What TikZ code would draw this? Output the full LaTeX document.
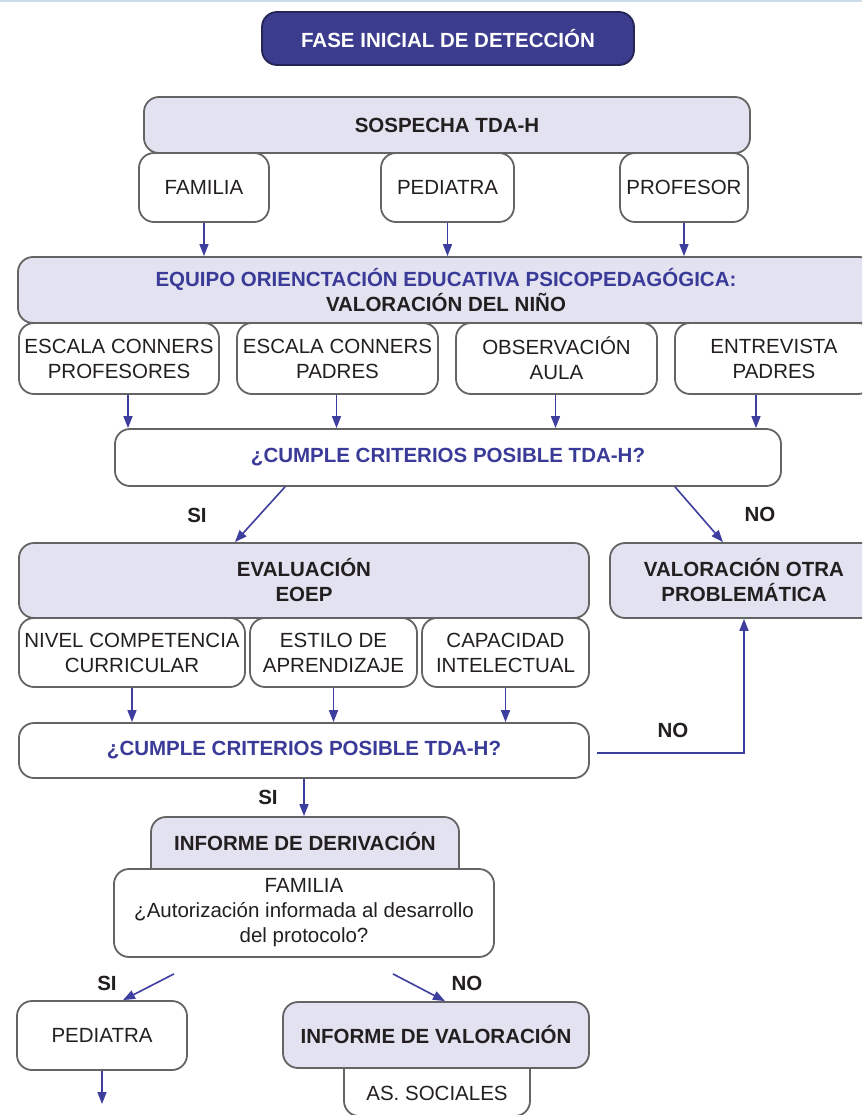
\documentclass[tikz,border=0pt]{standalone}
\usepackage{fontspec}
\setmainfont{Liberation Sans}
\usetikzlibrary{arrows.meta}
\definecolor{lav}{HTML}{E2E2F0}
\definecolor{fasebl}{HTML}{3C3C8E}
\definecolor{bluetxt}{HTML}{3A3A98}
\definecolor{arrowbl}{HTML}{3E3E9E}
\definecolor{boxgray}{HTML}{646464}
\definecolor{txtblack}{HTML}{231F20}
\definecolor{topline}{HTML}{CADCEA}
\begin{document}
\begin{tikzpicture}[x=1pt,y=-1pt,
  base/.style={draw=boxgray, line width=1.8pt, rounded corners=15pt, align=center,
    inner sep=0pt, text=txtblack, font=\fontsize{20.5pt}{25pt}\selectfont},
  hdr/.style={base, fill=lav, font=\fontsize{20.5pt}{25pt}\selectfont\bfseries},
  wbox/.style={base, fill=white},
  qbox/.style={base, fill=white, text=bluetxt, font=\fontsize{20.5pt}{25pt}\selectfont\bfseries},
  lbl/.style={font=\fontsize{20.5pt}{25pt}\selectfont\bfseries, text=txtblack, inner sep=0pt},
  arr/.style={draw=arrowbl, line width=1.6pt, -{Triangle[length=12pt,width=9pt]}},
  sz/.style 2 args={minimum width=#1pt, minimum height=#2pt},
]
\path[use as bounding box] (0,0) rectangle (862,1115);
\clip (0,0) rectangle (862,1115);
\fill[white] (0,0) rectangle (862,1115);
\fill[topline] (0,0) rectangle (862,2.5);

% top
\node[base, fill=fasebl, draw=fasebl!60!black, text=white,
  font=\fontsize{20.5pt}{25pt}\selectfont\bfseries, sz={372}{53}] (fase) at (448,38.5) {FASE INICIAL DE DETECCIÓN};
\node[hdr, sz={606}{56}] (sosp) at (447,125) {SOSPECHA TDA-H};
\node[wbox, sz={130}{69}] (fam1) at (204,187.5) {FAMILIA};
\node[wbox, sz={133}{69}] (ped1) at (447.5,187.5) {PEDIATRA};
\node[wbox, sz={128}{69}] (prof) at (684,187.5) {PROFESOR};

% equipo
\node[hdr, sz={856}{66}] (equipo) at (446,290)
  {{\color{bluetxt}EQUIPO ORIENCTACIÓN EDUCATIVA PSICOPEDAGÓGICA:}\\VALORACIÓN DEL NIÑO};
\node[wbox, sz={200}{71}] (esc1) at (119,358.5) {ESCALA CONNERS\\PROFESORES};
\node[wbox, sz={201}{71}] (esc2) at (337.5,358.5) {ESCALA CONNERS\\PADRES};
\node[wbox, sz={201}{71}] (obs) at (556.5,358.5) {OBSERVACIÓN\\AULA};
\node[wbox, sz={198}{71}] (entr) at (774,358.5) {ENTREVISTA\\PADRES};

\node[qbox, sz={666}{57}] (cump1) at (448,457.5) {¿CUMPLE CRITERIOS POSIBLE TDA-H?};

% evaluation
\node[hdr, sz={570}{75}] (eval) at (304,580.5) {EVALUACIÓN\\EOEP};
\node[hdr, sz={268}{75}] (valo) at (744,580.5) {VALORACIÓN OTRA\\PROBLEMÁTICA};
\node[wbox, sz={226}{69}] (niv) at (132,652.5) {NIVEL COMPETENCIA\\CURRICULAR};
\node[wbox, sz={167}{69}] (est) at (333.5,652.5) {ESTILO DE\\APRENDIZAJE};
\node[wbox, sz={167}{69}] (cap) at (505.5,652.5) {CAPACIDAD\\INTELECTUAL};

\node[qbox, sz={570}{55}] (cump2) at (304,750.5) {¿CUMPLE CRITERIOS POSIBLE TDA-H?};

% derivation
\node[hdr, sz={308}{66}] (infd) at (305,850) {\raisebox{0pt}[0pt][0pt]{INFORME DE DERIVACIÓN}};
\node[wbox, sz={380}{88}] (famq) at (304,913)
  {FAMILIA\\¿Autorización informada al desarrollo\\del protocolo?};

\node[wbox, sz={170}{69}] (ped2) at (102,1035.5) {PEDIATRA};
\node[wbox, sz={186}{62}] (asoc) at (437,1085) {\raisebox{-15.4pt}[0pt][0pt]{AS. SOCIALES}};
\node[hdr, sz={306}{66}] (infv) at (436,1035) {INFORME DE VALORACIÓN};
\coordinate (pedend) at (102,1104);

% labels
\node[lbl] (si1) at (197,515) {SI};
\node[lbl] (no1) at (760,514) {NO};
\node[lbl] (no2) at (673,730) {NO};
\node[lbl] (si2) at (268,797) {SI};
\node[lbl] (si3) at (107,983) {SI};
\node[lbl] (no3) at (467,983) {NO};

% arrows
\draw[arr] (fam1.south) -- (fam1.south |- equipo.north);
\draw[arr] (ped1.south) -- (ped1.south |- equipo.north);
\draw[arr] (prof.south) -- (prof.south |- equipo.north);

\draw[arr] ([xshift=9pt]esc1.south) -- ([xshift=9pt]esc1.south |- cump1.north);
\draw[arr] ([xshift=-1pt]esc2.south) -- ([xshift=-1pt]esc2.south |- cump1.north);
\draw[arr] ([xshift=-1pt]obs.south) -- ([xshift=-1pt]obs.south |- cump1.north);
\draw[arr] ([xshift=-18pt]entr.south) -- ([xshift=-18pt]entr.south |- cump1.north);

\draw[arr] ([xshift=-163pt]cump1.south) -- ([xshift=-69pt]eval.north);
\draw[arr] ([xshift=227pt]cump1.south) -- ([xshift=-21pt]valo.north);

\draw[arr] (niv.south) -- (niv.south |- cump2.north);
\draw[arr] (est.south) -- (est.south |- cump2.north);
\draw[arr] (cap.south) -- (cap.south |- cump2.north);

\draw[arr] ([xshift=7pt,yshift=-2.5pt]cump2.east) -| (valo.south);
\draw[arr] (cump2.south) -- (cump2.south |- infd.north);

\draw[arr] ([xshift=-130pt,yshift=-16pt]famq.south) -- ([xshift=21pt]ped2.north);
\draw[arr] ([xshift=89pt,yshift=-16pt]famq.south) -- ([xshift=9pt]infv.north);
\draw[arr] (ped2.south) -- (pedend);
\end{tikzpicture}
\end{document}
